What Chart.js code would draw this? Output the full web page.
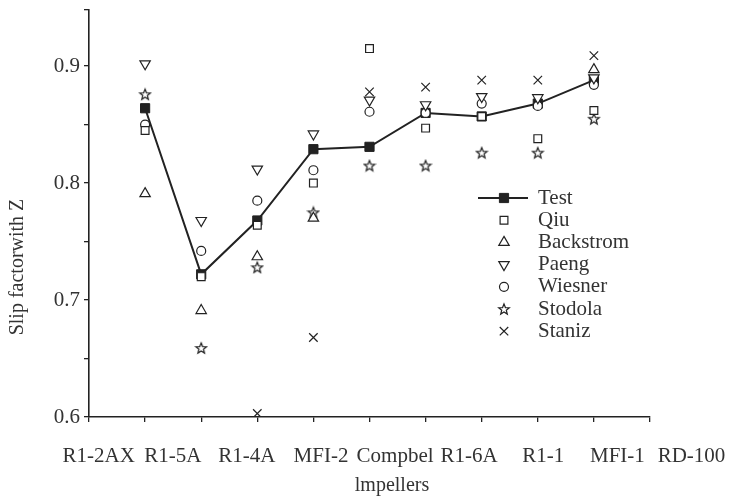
<!DOCTYPE html>
<html>
<head>
<meta charset="utf-8">
<script src="https://cdn.jsdelivr.net/npm/chart.js@4.4.0/dist/chart.umd.min.js"></script>
<style>
  html, body { margin: 0; padding: 0; background: #fff; }
</style>
</head>
<body>
<canvas id="myChart" width="733" height="500"></canvas>
<script>
const impellers = ['R1-2AX', 'R1-5A', 'R1-4A', 'MFI-2', 'Compbel', 'R1-6A', 'R1-1', 'MFI-1', 'RD-100'];
const test      = [0.864, 0.722, 0.768, 0.829, 0.831, 0.860, 0.857, 0.868, 0.888];
const qiu       = [0.845, 0.720, 0.764, 0.800, 0.915, 0.847, 0.857, 0.838, 0.862];
const backstrom = [0.791, 0.691, 0.737, 0.770, null, null, null, null, 0.897];
const paeng     = [0.902, 0.768, 0.812, 0.842, 0.871, 0.867, 0.874, 0.873, 0.890];
const wiesner   = [0.850, 0.742, 0.785, 0.811, 0.861, 0.860, 0.868, 0.866, 0.884];
const stodola   = [0.876, 0.659, 0.728, 0.775, 0.815, 0.815, 0.826, 0.826, 0.855];
const staniz    = [null, null, 0.603, 0.668, 0.878, 0.882, 0.888, 0.888, 0.909];
const yTicks    = [0.6, 0.7, 0.8, 0.9];

const ink = '#222';
const serif = 'Liberation Serif';

// outline five point star, used as a point style
const star = document.createElement('canvas');
star.width = 14;
star.height = 14;
(function () {
    const c = star.getContext('2d');
    c.beginPath();
    for (let k = 0; k < 10; k++) {
        const r = k % 2 === 0 ? 5.6 : 2.4;
        const a = -Math.PI / 2 + k * Math.PI / 5;
        c.lineTo(7 + r * Math.cos(a), 7.5 + r * Math.sin(a));
    }
    c.closePath();
    c.fillStyle = '#fff';
    c.fill();
    c.strokeStyle = ink;
    c.lineWidth = 1.2;
    c.stroke();
})();

const toPoints = arr => impellers.map((_, i) => ({ x: i + 1, y: arr[i] }));

function hollow(label, values, style, radius, rotation) {
    return {
        label: label,
        data: toPoints(values),
        showLine: false,
        pointStyle: style,
        pointRadius: radius,
        pointRotation: rotation || 0,
        pointBackgroundColor: '#fff',
        pointBorderColor: ink,
        pointBorderWidth: 1.2,
        order: 0
    };
}

const datasets = [
    {
        label: 'Test',
        data: toPoints(test),
        borderColor: ink,
        borderWidth: 2,
        pointStyle: 'rect',
        pointRadius: 6.5,
        pointBackgroundColor: ink,
        pointBorderColor: ink,
        pointBorderWidth: 1,
        order: 1
    },
    hollow('Qiu', qiu, 'rect', 5.5),
    hollow('Backstrom', backstrom, 'triangle', 6),
    hollow('Paeng', paeng, 'triangle', 6, 180),
    hollow('Wiesner', wiesner, 'circle', 4.5),
    hollow('Stodola', stodola, star, 6),
    hollow('Staniz', staniz, 'crossRot', 6)
];

// legend inside the plot plus the two axis titles
const extras = {
    id: 'extras',
    afterDraw(chart) {
        const ctx = chart.ctx;
        ctx.save();
        ctx.font = '21px "' + serif + '"';
        ctx.textBaseline = 'middle';
        chart.data.datasets.forEach((ds, i) => {
            const y = 198 + i * 22.2;
            if (ds.showLine !== false) {
                ctx.strokeStyle = ds.borderColor;
                ctx.lineWidth = ds.borderWidth;
                ctx.beginPath();
                ctx.moveTo(478, y);
                ctx.lineTo(528, y);
                ctx.stroke();
            }
            ctx.fillStyle = ds.pointBackgroundColor;
            ctx.strokeStyle = ds.pointBorderColor;
            ctx.lineWidth = ds.pointBorderWidth;
            Chart.helpers.drawPoint(ctx, {
                pointStyle: ds.pointStyle,
                rotation: ds.pointRotation || 0,
                radius: ds.pointRadius,
                borderWidth: ds.pointBorderWidth
            }, 504, y);
            ctx.fillStyle = '#333';
            ctx.textAlign = 'left';
            ctx.fillText(ds.label, 538, y);
        });

        ctx.font = '20px "' + serif + '"';
        ctx.fillStyle = '#333';
        ctx.textAlign = 'center';
        ctx.fillText('lmpellers', 392, 486);
        ctx.translate(18, 267);
        ctx.rotate(-Math.PI / 2);
        ctx.fillText('Slip factorwith Z', 0, 0);
        ctx.restore();
    }
};

const ctx = document.getElementById('myChart');
const myChart = new Chart(ctx, {
    type: 'line',
    data: { datasets: datasets },
    plugins: [extras],
    options: {
        responsive: false,
        animation: false,
        devicePixelRatio: 1,
        layout: { padding: { top: 10, right: 83, bottom: 0, left: 0 } },
        plugins: {
            legend: { display: false },
            tooltip: { enabled: false }
        },
        scales: {
            x: {
                type: 'linear',
                position: 'bottom',
                weight: 0,
                min: 0,
                max: impellers.length + 1,
                ticks: { display: false, stepSize: 1 },
                grid: { drawOnChartArea: false, tickLength: 5, color: ink, lineWidth: 1.3 },
                border: { color: ink, width: 1.6 },
                afterFit: s => { s.height = 8; s.paddingLeft = 0; s.paddingRight = 0; }
            },
            xl: {
                type: 'linear',
                position: 'bottom',
                weight: 1,
                min: 0.87,
                max: 8.44,
                grid: { display: false, drawTicks: false },
                border: { display: false },
                ticks: {
                    autoSkip: false,
                    maxRotation: 0,
                    minRotation: 0,
                    padding: 19,
                    color: '#333',
                    font: { family: serif, size: 21 },
                    callback: v => impellers[v - 1]
                },
                afterBuildTicks: s => { s.ticks = impellers.map((_, i) => ({ value: i + 1 })); },
                afterFit: s => { s.height = 75; s.paddingLeft = 0; s.paddingRight = 0; }
            },
            y: {
                min: 0.6,
                max: 0.948,
                ticks: {
                    stepSize: 0.05,
                    padding: 4,
                    color: '#333',
                    font: { family: serif, size: 21 },
                    callback: v => yTicks.some(t => Math.abs(t - v) < 1e-6) ? v.toFixed(1) : ''
                },
                grid: { drawOnChartArea: false, tickLength: 5, color: ink, lineWidth: 1.3 },
                border: { color: ink, width: 1.6 },
                afterFit: s => { s.width = 89; s.paddingTop = 0; s.paddingBottom = 0; }
            }
        }
    }
});
</script>
</body>
</html>
